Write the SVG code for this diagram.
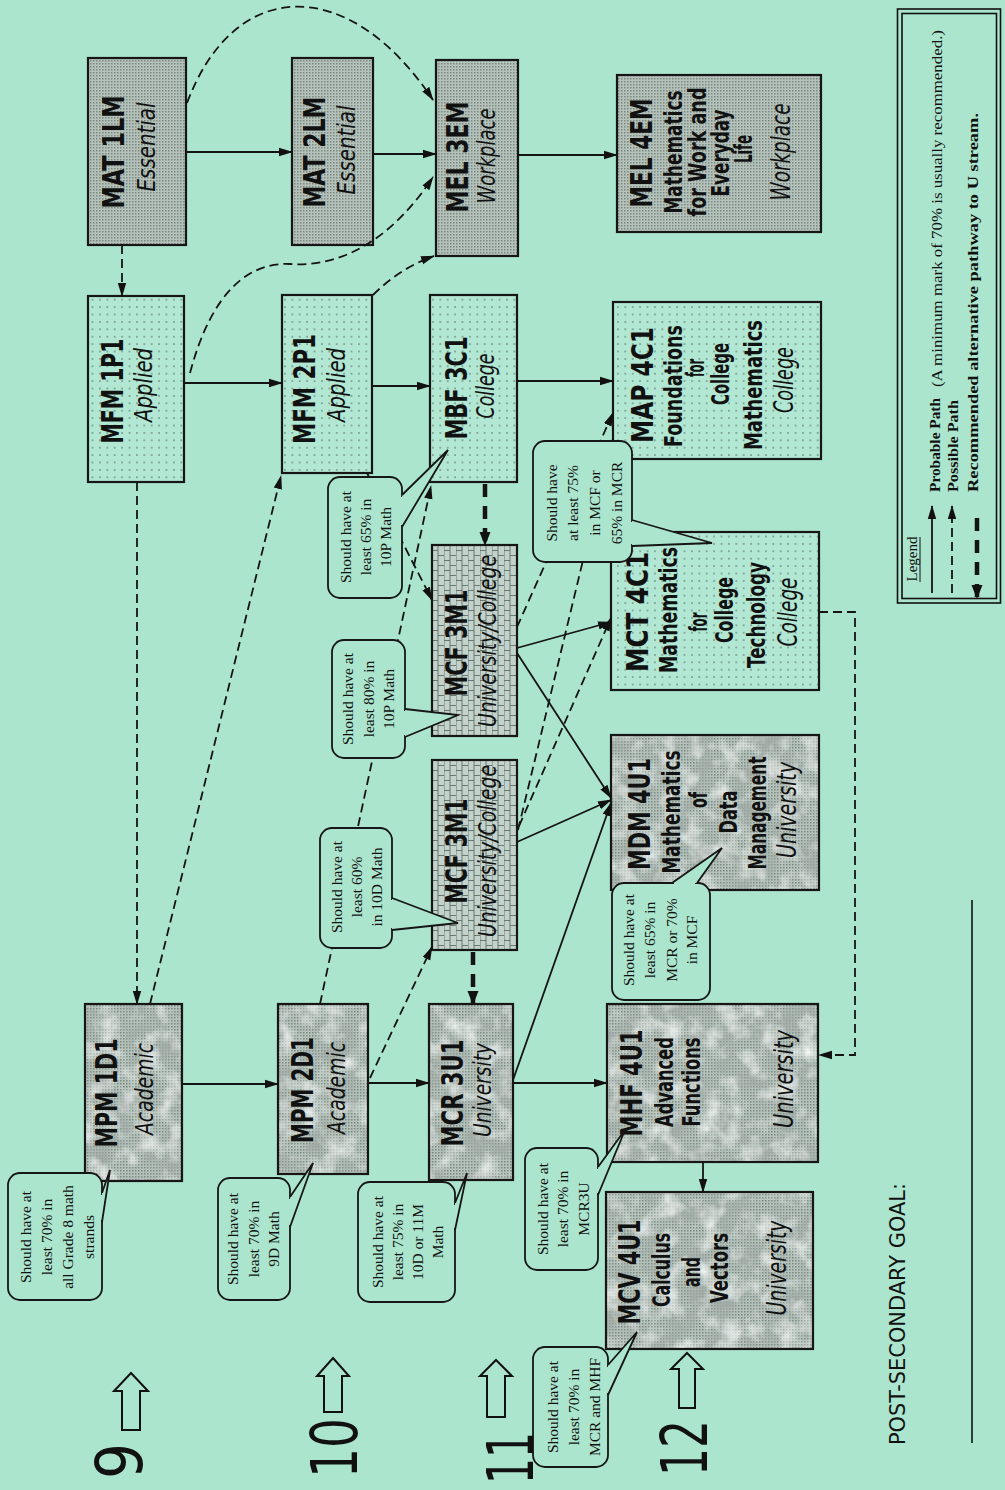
<svg xmlns="http://www.w3.org/2000/svg" width="1005" height="1490" viewBox="0 0 1005 1490">
<defs>
<style>
.bx{fill:none;stroke:#161616;stroke-width:2.2}
.ln{fill:none;stroke:#141414;stroke-width:1.8}
.dsh{stroke-dasharray:9 5}
.thk{stroke-width:4.5;stroke-dasharray:13 9}
.co{fill:#ace5cd;stroke:#161616;stroke-width:1.8}
.cov{stroke:#ace5cd;stroke-width:4}
.tl{fill:#ace5cd;stroke:#161616;stroke-width:1.8;stroke-linejoin:miter}
.t{font-family:"DejaVu Sans",sans-serif;font-weight:bold;font-size:30px;text-anchor:middle;fill:#111}
.s{font-family:"DejaVu Sans",sans-serif;font-style:italic;font-size:25px;text-anchor:middle;fill:#111}
.s2{font-family:"DejaVu Sans",sans-serif;font-style:italic;font-size:27px;text-anchor:middle;fill:#111}
.b{font-family:"DejaVu Sans",sans-serif;font-weight:bold;font-size:24px;text-anchor:middle;fill:#111}
.c{font-family:"Liberation Serif",serif;font-size:15.5px;text-anchor:middle;fill:#111}
.g{font-family:"DejaVu Sans",sans-serif;font-size:64px;text-anchor:middle;fill:#111}
.lg{font-family:"Liberation Serif",serif;font-size:15px;fill:#111}
.lgb{font-family:"Liberation Serif",serif;font-size:15px;font-weight:bold;fill:#111}
.ha{fill:#ace5cd;stroke:#111;stroke-width:2}
</style>
<pattern id="dots" width="7.4" height="7.4" patternUnits="userSpaceOnUse"><rect width="7.4" height="7.4" fill="#b2e7d3"/><circle cx="3.7" cy="3.7" r="0.7" fill="#33443c"/></pattern>
<pattern id="brick" width="12" height="20" patternUnits="userSpaceOnUse"><rect width="12" height="20" fill="#c3d2cb"/><path d="M0,0V20M6,0V20M0,0.5H6M0,10.5H6M6,5.5H12M6,15.5H12" stroke="#5f6f68" stroke-width="0.9" fill="none"/></pattern>
<pattern id="stip" width="3" height="3" patternUnits="userSpaceOnUse"><rect width="3" height="3" fill="#b5c2bb"/><rect width="1.5" height="1.5" fill="#7a8980"/></pattern>
<filter id="mottle" x="0" y="0" width="1" height="1">
<feTurbulence type="fractalNoise" baseFrequency="0.045" numOctaves="3" seed="7" result="n"/>
<feColorMatrix in="n" type="matrix" values="0 0 0 0 0.35  0 0 0 0 0.4  0 0 0 0 0.38  2.2 0 0 0 -0.95" result="m"/>
<feTurbulence type="fractalNoise" baseFrequency="0.05" numOctaves="3" seed="21" result="n2"/>
<feColorMatrix in="n2" type="matrix" values="0 0 0 0 0.9  0 0 0 0 0.93  0 0 0 0 0.92  2.0 0 0 0 -0.9" result="w"/>
<feMerge result="mm"><feMergeNode in="m"/><feMergeNode in="w"/></feMerge>
<feComposite in="mm" in2="SourceGraphic" operator="in"/>
</filter>
<marker id="ah" markerWidth="14" markerHeight="10" refX="13" refY="5" orient="auto" markerUnits="userSpaceOnUse"><path d="M0,0.8 L14,5 L0,9.2 z" fill="#111"/></marker>
<marker id="ahk" markerWidth="14" markerHeight="12" refX="13" refY="6" orient="auto" markerUnits="userSpaceOnUse"><path d="M0,0.5 L14,6 L0,11.5 z" fill="#111"/></marker>
</defs>
<rect x="0" y="0" width="1005" height="1490" fill="#ace5cd"/>

<!-- Essential / Workplace -->
<g id="mat1lm">
<rect x="88" y="58" width="98" height="187" fill="url(#stip)"/><rect x="88" y="58" width="98" height="187" class="bx"/>
<g transform="rotate(-90)"><text class="t" x="-152" y="124" textLength="113" lengthAdjust="spacingAndGlyphs">MAT 1LM</text><text class="s" x="-147" y="155" textLength="89" lengthAdjust="spacingAndGlyphs">Essential</text></g>
</g>
<g id="mat2lm">
<rect x="292" y="58" width="81" height="187" fill="url(#stip)"/><rect x="292" y="58" width="81" height="187" class="bx"/>
<g transform="rotate(-90)"><text class="t" x="-152" y="325" textLength="111" lengthAdjust="spacingAndGlyphs">MAT 2LM</text><text class="s" x="-150" y="355" textLength="89" lengthAdjust="spacingAndGlyphs">Essential</text></g>
</g>
<g id="mel3em">
<rect x="436" y="60" width="82" height="196" fill="url(#stip)"/><rect x="436" y="60" width="82" height="196" class="bx"/>
<g transform="rotate(-90)"><text class="t" x="-157" y="468" textLength="111" lengthAdjust="spacingAndGlyphs">MEL 3EM</text><text class="s" x="-156" y="495" textLength="95" lengthAdjust="spacingAndGlyphs">Workplace</text></g>
</g>
<g id="mel4em">
<rect x="617" y="75" width="204" height="157" fill="url(#stip)"/><rect x="617" y="75" width="204" height="157" class="bx"/>
<g transform="rotate(-90)">
<text class="t" x="-153" y="652" textLength="109" lengthAdjust="spacingAndGlyphs">MEL 4EM</text>
<text class="b" x="-152" y="682" textLength="123" lengthAdjust="spacingAndGlyphs">Mathematics</text>
<text class="b" x="-152" y="706" textLength="129" lengthAdjust="spacingAndGlyphs">for Work and</text>
<text class="b" x="-153" y="729" textLength="87" lengthAdjust="spacingAndGlyphs">Everyday</text>
<text class="b" x="-149" y="752" textLength="28" lengthAdjust="spacingAndGlyphs">Life</text>
<text class="s2" x="-152" y="790" textLength="97" lengthAdjust="spacingAndGlyphs">Workplace</text>
</g>
</g>

<!-- Applied / College (dotted) -->
<g id="mfm1p1">
<rect x="88" y="296" width="96" height="186" fill="url(#dots)"/><rect x="88" y="296" width="96" height="186" class="bx"/>
<g transform="rotate(-90)"><text class="t" x="-391" y="123" textLength="105" lengthAdjust="spacingAndGlyphs">MFM 1P1</text><text class="s" x="-385" y="152" textLength="74" lengthAdjust="spacingAndGlyphs">Applied</text></g>
</g>
<g id="mfm2p1">
<rect x="282" y="295" width="90" height="178" fill="url(#dots)"/><rect x="282" y="295" width="90" height="178" class="bx"/>
<g transform="rotate(-90)"><text class="t" x="-389" y="315" textLength="110" lengthAdjust="spacingAndGlyphs">MFM 2P1</text><text class="s" x="-385" y="345" textLength="74" lengthAdjust="spacingAndGlyphs">Applied</text></g>
</g>
<g id="mbf3c1">
<rect x="430" y="295" width="87" height="187" fill="url(#dots)"/><rect x="430" y="295" width="87" height="187" class="bx"/>
<g transform="rotate(-90)"><text class="t" x="-388" y="467" textLength="103" lengthAdjust="spacingAndGlyphs">MBF 3C1</text><text class="s" x="-386" y="494" textLength="65" lengthAdjust="spacingAndGlyphs">College</text></g>
</g>
<g id="map4c1">
<rect x="613" y="302" width="208" height="157" fill="url(#dots)"/><rect x="613" y="302" width="208" height="157" class="bx"/>
<g transform="rotate(-90)">
<text class="t" x="-385" y="653" textLength="116" lengthAdjust="spacingAndGlyphs">MAP 4C1</text>
<text class="b" x="-386" y="682" textLength="122" lengthAdjust="spacingAndGlyphs">Foundations</text>
<text class="b" x="-368" y="704" textLength="18" lengthAdjust="spacingAndGlyphs">for</text>
<text class="b" x="-374" y="729" textLength="62" lengthAdjust="spacingAndGlyphs">College</text>
<text class="b" x="-385" y="762" textLength="130" lengthAdjust="spacingAndGlyphs">Mathematics</text>
<text class="s2" x="-380" y="793" textLength="66" lengthAdjust="spacingAndGlyphs">College</text>
</g>
</g>
<g id="mct4c1">
<rect x="611" y="532" width="208" height="158" fill="url(#dots)"/><rect x="611" y="532" width="208" height="158" class="bx"/>
<g transform="rotate(-90)">
<text class="t" x="-612" y="648" textLength="120" lengthAdjust="spacingAndGlyphs">MCT 4C1</text>
<text class="b" x="-610" y="677" textLength="126" lengthAdjust="spacingAndGlyphs">Mathematics</text>
<text class="b" x="-622" y="707" textLength="19" lengthAdjust="spacingAndGlyphs">for</text>
<text class="b" x="-610" y="733" textLength="66" lengthAdjust="spacingAndGlyphs">College</text>
<text class="b" x="-615" y="765" textLength="106" lengthAdjust="spacingAndGlyphs">Technology</text>
<text class="s2" x="-612" y="797" textLength="69" lengthAdjust="spacingAndGlyphs">College</text>
</g>
</g>

<!-- University/College (brick) -->
<g id="mcf3m1a">
<rect x="432" y="545" width="85" height="191" fill="url(#brick)"/><rect x="432" y="545" width="85" height="191" class="bx"/>
<g transform="rotate(-90)"><text class="t" x="-643" y="467" textLength="107" lengthAdjust="spacingAndGlyphs">MCF 3M1</text><text class="s" x="-641" y="496" textLength="172" lengthAdjust="spacingAndGlyphs">University/College</text></g>
</g>
<g id="mcf3m1b">
<rect x="432" y="760" width="85" height="190" fill="url(#brick)"/><rect x="432" y="760" width="85" height="190" class="bx"/>
<g transform="rotate(-90)"><text class="t" x="-851" y="467" textLength="105" lengthAdjust="spacingAndGlyphs">MCF 3M1</text><text class="s" x="-851" y="496" textLength="172" lengthAdjust="spacingAndGlyphs">University/College</text></g>
</g>

<!-- Academic / University (mottled) -->
<g id="mpm1d1">
<rect x="85" y="1004" width="97" height="177" fill="url(#stip)"/><rect x="85" y="1004" width="97" height="177" fill="#000" filter="url(#mottle)"/><rect x="85" y="1004" width="97" height="177" class="bx"/>
<g transform="rotate(-90)"><text class="t" x="-1093" y="117" textLength="109" lengthAdjust="spacingAndGlyphs">MPM 1D1</text><text class="s" x="-1089" y="153" textLength="92" lengthAdjust="spacingAndGlyphs">Academic</text></g>
</g>
<g id="mpm2d1">
<rect x="278" y="1004" width="90" height="170" fill="url(#stip)"/><rect x="278" y="1004" width="90" height="170" fill="#000" filter="url(#mottle)"/><rect x="278" y="1004" width="90" height="170" class="bx"/>
<g transform="rotate(-90)"><text class="t" x="-1090" y="313" textLength="106" lengthAdjust="spacingAndGlyphs">MPM 2D1</text><text class="s" x="-1088" y="345" textLength="92" lengthAdjust="spacingAndGlyphs">Academic</text></g>
</g>
<g id="mcr3u1">
<rect x="429" y="1004" width="84" height="176" fill="url(#stip)"/><rect x="429" y="1004" width="84" height="176" fill="#000" filter="url(#mottle)"/><rect x="429" y="1004" width="84" height="176" class="bx"/>
<g transform="rotate(-90)"><text class="t" x="-1093" y="463" textLength="107" lengthAdjust="spacingAndGlyphs">MCR 3U1</text><text class="s" x="-1090" y="491" textLength="94" lengthAdjust="spacingAndGlyphs">University</text></g>
</g>
<g id="mdm4u1">
<rect x="611" y="735" width="208" height="155" fill="url(#stip)"/><rect x="611" y="735" width="208" height="155" fill="#000" filter="url(#mottle)"/><rect x="611" y="735" width="208" height="155" class="bx"/>
<g transform="rotate(-90)">
<text class="t" x="-814" y="650" textLength="112" lengthAdjust="spacingAndGlyphs">MDM 4U1</text>
<text class="b" x="-812" y="680" textLength="123" lengthAdjust="spacingAndGlyphs">Mathematics</text>
<text class="b" x="-800" y="707" textLength="16" lengthAdjust="spacingAndGlyphs">of</text>
<text class="b" x="-812" y="737" textLength="43" lengthAdjust="spacingAndGlyphs">Data</text>
<text class="b" x="-813" y="766" textLength="113" lengthAdjust="spacingAndGlyphs">Management</text>
<text class="s2" x="-810" y="796" textLength="96" lengthAdjust="spacingAndGlyphs">University</text>
</g>
</g>
<g id="mhf4u1">
<rect x="607" y="1004" width="211" height="158" fill="url(#stip)"/><rect x="607" y="1004" width="211" height="158" fill="#000" filter="url(#mottle)"/><rect x="607" y="1004" width="211" height="158" class="bx"/>
<g transform="rotate(-90)">
<text class="t" x="-1083" y="642" textLength="107" lengthAdjust="spacingAndGlyphs">MHF 4U1</text>
<text class="b" x="-1082" y="673" textLength="90" lengthAdjust="spacingAndGlyphs">Advanced</text>
<text class="b" x="-1082" y="700" textLength="89" lengthAdjust="spacingAndGlyphs">Functions</text>
<text class="s2" x="-1079" y="793" textLength="98" lengthAdjust="spacingAndGlyphs">University</text>
</g>
</g>
<g id="mcv4u1">
<rect x="606" y="1192" width="207" height="157" fill="url(#stip)"/><rect x="606" y="1192" width="207" height="157" fill="#000" filter="url(#mottle)"/><rect x="606" y="1192" width="207" height="157" class="bx"/>
<g transform="rotate(-90)">
<text class="t" x="-1272" y="640" textLength="105" lengthAdjust="spacingAndGlyphs">MCV 4U1</text>
<text class="b" x="-1270" y="670" textLength="74" lengthAdjust="spacingAndGlyphs">Calculus</text>
<text class="b" x="-1272" y="700" textLength="30" lengthAdjust="spacingAndGlyphs">and</text>
<text class="b" x="-1268" y="728" textLength="70" lengthAdjust="spacingAndGlyphs">Vectors</text>
<text class="s2" x="-1268" y="786" textLength="95" lengthAdjust="spacingAndGlyphs">University</text>
</g>
</g>

<!-- Connectors -->
<g id="connectors">
<path class="ln" d="M186,152H292" marker-end="url(#ah)"/>
<path class="ln" d="M373,154H436" marker-end="url(#ah)"/>
<path class="ln" d="M518,155H617" marker-end="url(#ah)"/>
<path class="ln" d="M184,383H282" marker-end="url(#ah)"/>
<path class="ln" d="M372,386H430" marker-end="url(#ah)"/>
<path class="ln" d="M517,381H613" marker-end="url(#ah)"/>
<path class="ln" d="M517,648L611,622" marker-end="url(#ah)"/>
<path class="ln" d="M517,653L611,798" marker-end="url(#ah)"/>
<path class="ln" d="M517,842L611,800" marker-end="url(#ah)"/>
<path class="ln" d="M513,1080L611,803" marker-end="url(#ah)"/>
<path class="ln" d="M182,1084H278" marker-end="url(#ah)"/>
<path class="ln" d="M368,1083H429" marker-end="url(#ah)"/>
<path class="ln" d="M513,1083H607" marker-end="url(#ah)"/>
<path class="ln" d="M703,1162V1192" marker-end="url(#ah)"/>
<path class="ln dsh" d="M122,245V296" marker-end="url(#ah)"/>
<path class="ln dsh" d="M187,103C235,-25 350,-25 433,100" marker-end="url(#ah)"/>
<path class="ln dsh" d="M190,373C212,290 250,262 290,264C345,268 395,235 433,177" marker-end="url(#ah)"/>
<path class="ln dsh" d="M373,295Q400,268 434,256" marker-end="url(#ah)"/>
<path class="ln dsh" d="M137,482V1004" marker-end="url(#ah)"/>
<path class="ln dsh" d="M150,1004L281,476" marker-end="url(#ah)"/>
<path class="ln dsh" d="M320,1004L431,486" marker-end="url(#ah)"/>
<path class="ln dsh" d="M367,473L432,600" marker-end="url(#ah)"/>
<path class="ln dsh" d="M370,1078L432,947" marker-end="url(#ah)"/>
<path class="ln dsh" d="M517,627L613,413" marker-end="url(#ah)"/>
<path class="ln dsh" d="M518,830L612,440" marker-end="url(#ah)"/>
<path class="ln dsh" d="M519,826L611,618" marker-end="url(#ah)"/>
<path class="ln dsh" d="M819,612H855V1055H819" marker-end="url(#ah)"/>
<path class="ln thk" d="M485,484V545" marker-end="url(#ahk)"/>
<path class="ln thk" d="M473,952V1004" marker-end="url(#ahk)"/>
</g>

<!-- Callouts -->
<g id="callout-a">
<rect class="co" x="8" y="1173" width="94" height="127" rx="12"/><line class="cov" x1="102" y1="1195" x2="102" y2="1220"/><path class="tl" d="M102,1193L110,1170L102,1222"/>
<g transform="rotate(-90)"><text class="c" x="-1237" y="31">Should have at</text><text class="c" x="-1237" y="52">least 70% in</text><text class="c" x="-1237" y="73">all Grade 8 math</text><text class="c" x="-1237" y="94">strands</text></g>
</g>
<g id="callout-b">
<rect class="co" x="218" y="1178" width="72" height="122" rx="12"/><line class="cov" x1="290" y1="1199" x2="290" y2="1225"/><path class="tl" d="M290,1197L313,1163L290,1227"/>
<g transform="rotate(-90)"><text class="c" x="-1239" y="238">Should have at</text><text class="c" x="-1239" y="259">least 70% in</text><text class="c" x="-1239" y="279">9D Math</text></g>
</g>
<g id="callout-c">
<rect class="co" x="358" y="1182" width="97" height="120" rx="12"/><line class="cov" x1="455" y1="1205" x2="455" y2="1228"/><path class="tl" d="M455,1203L467,1173L455,1230"/>
<g transform="rotate(-90)"><text class="c" x="-1242" y="383">Should have at</text><text class="c" x="-1242" y="403">least 75% in</text><text class="c" x="-1242" y="423">10D or 11M</text><text class="c" x="-1242" y="443">Math</text></g>
</g>
<g id="callout-d">
<rect class="co" x="525" y="1148" width="73" height="122" rx="12"/><line class="cov" x1="598" y1="1169" x2="598" y2="1193"/><path class="tl" d="M598,1167L625,1130L598,1195"/>
<g transform="rotate(-90)"><text class="c" x="-1209" y="548">Should have at</text><text class="c" x="-1209" y="568">least 70% in</text><text class="c" x="-1209" y="589">MCR3U</text></g>
</g>
<g id="callout-e">
<rect class="co" x="533" y="1347" width="75" height="120" rx="12"/><line class="cov" x1="608" y1="1367" x2="608" y2="1393"/><path class="tl" d="M608,1365L637,1332L608,1395"/>
<g transform="rotate(-90)"><text class="c" x="-1407" y="558">Should have at</text><text class="c" x="-1407" y="579">least 70% in</text><text class="c" x="-1407" y="600">MCR and MHF</text></g>
</g>
<g id="callout-f">
<rect class="co" x="328" y="477" width="74" height="121" rx="12"/><line class="cov" x1="402" y1="497" x2="402" y2="525"/><path class="tl" d="M402,495L448,450L402,527"/>
<g transform="rotate(-90)"><text class="c" x="-537" y="351">Should have at</text><text class="c" x="-537" y="371">least 65% in</text><text class="c" x="-537" y="391">10P Math</text></g>
</g>
<g id="callout-g">
<rect class="co" x="332" y="640" width="73" height="118" rx="12"/><line class="cov" x1="405" y1="711" x2="405" y2="735"/><path class="tl" d="M405,709L458,715L405,737"/>
<g transform="rotate(-90)"><text class="c" x="-699" y="353">Should have at</text><text class="c" x="-699" y="374">least 80% in</text><text class="c" x="-699" y="394">10P Math</text></g>
</g>
<g id="callout-h">
<rect class="co" x="320" y="828" width="72" height="120" rx="12"/><line class="cov" x1="392" y1="900" x2="392" y2="928"/><path class="tl" d="M392,898L458,923L392,930"/>
<g transform="rotate(-90)"><text class="c" x="-887" y="342">Should have at</text><text class="c" x="-887" y="362">least 60%</text><text class="c" x="-887" y="382">in 10D Math</text></g>
</g>
<g id="callout-i">
<rect class="co" x="533" y="441" width="99" height="121" rx="12"/><line class="cov" x1="632" y1="522" x2="632" y2="544"/><path class="tl" d="M632,520L712,543L632,546"/>
<g transform="rotate(-90)"><text class="c" x="-503" y="557">Should have</text><text class="c" x="-503" y="578">at least 75%</text><text class="c" x="-503" y="600">in MCF or</text><text class="c" x="-503" y="622">65% in MCR</text></g>
</g>
<g id="callout-j">
<rect class="co" x="612" y="883" width="98" height="117" rx="12"/><line class="cov" x1="674" y1="883" x2="695" y2="883"/><path class="tl" d="M672,883L722,848L697,883"/>
<g transform="rotate(-90)"><text class="c" x="-940" y="634">Should have at</text><text class="c" x="-940" y="655">least 65% in</text><text class="c" x="-940" y="677">MCR or 70%</text><text class="c" x="-940" y="697">in MCF</text></g>
</g>

<!-- Grade markers -->
<g id="grades">
<polygon class="ha" points="131,1373 148,1391 140,1391 140,1430 122,1430 122,1391 114,1391"/>
<polygon class="ha" points="333,1358 349,1376 342,1376 342,1412 324,1412 324,1376 317,1376"/>
<polygon class="ha" points="496,1360 512,1376 505,1376 505,1417 487,1417 487,1376 480,1376"/>
<polygon class="ha" points="687,1353 703,1369 695,1369 695,1408 679,1408 679,1369 671,1369"/>
<g transform="rotate(-90)">
<text class="g" x="-1461" y="142" textLength="36" lengthAdjust="spacingAndGlyphs">9</text>
<text class="g" x="-1448" y="357" textLength="60" lengthAdjust="spacingAndGlyphs">10</text>
<text class="g" x="-1458" y="533" textLength="52" lengthAdjust="spacingAndGlyphs">11</text>
<text class="g" x="-1448" y="707" textLength="56" lengthAdjust="spacingAndGlyphs">12</text>
</g>
</g>

<!-- Goal -->
<g id="goal">
<g transform="rotate(-90)"><text x="-1314" y="905" font-family="DejaVu Sans, sans-serif" font-size="22" text-anchor="middle" textLength="262" lengthAdjust="spacingAndGlyphs" fill="#111">POST-SECONDARY GOAL:</text></g>
<line x1="972" y1="900" x2="972" y2="1443" stroke="#111" stroke-width="1.6"/>
</g>

<!-- Legend -->
<g id="legend">
<rect x="897.5" y="9" width="103" height="594" fill="none" stroke="#111" stroke-width="1.6"/>
<rect x="902" y="13.5" width="94.5" height="585" fill="none" stroke="#111" stroke-width="1.6"/>
<path class="ln" d="M932,593V506" marker-end="url(#ah)"/>
<path class="ln dsh" d="M952,593V506" marker-end="url(#ah)"/>
<path class="ln thk" d="M977,518V598" marker-end="url(#ahk)"/>
<line x1="920" y1="537" x2="920" y2="582" stroke="#111" stroke-width="1"/>
<g transform="rotate(-90)">
<text class="lg" x="-559" y="917" text-anchor="middle" font-size="14">Legend</text>
<text class="lgb" x="-492" y="940" textLength="94" lengthAdjust="spacingAndGlyphs">Probable Path</text>
<text class="lg" x="-387" y="942" textLength="357" lengthAdjust="spacingAndGlyphs">(A minimum mark of 70%  is usually recommended.)</text>
<text class="lgb" x="-492" y="958" textLength="92" lengthAdjust="spacingAndGlyphs">Possible Path</text>
<text class="lgb" x="-492" y="978" font-size="17" textLength="379" lengthAdjust="spacingAndGlyphs">Recommended  alternative  pathway to U stream.</text>
</g>
</g>
</svg>
